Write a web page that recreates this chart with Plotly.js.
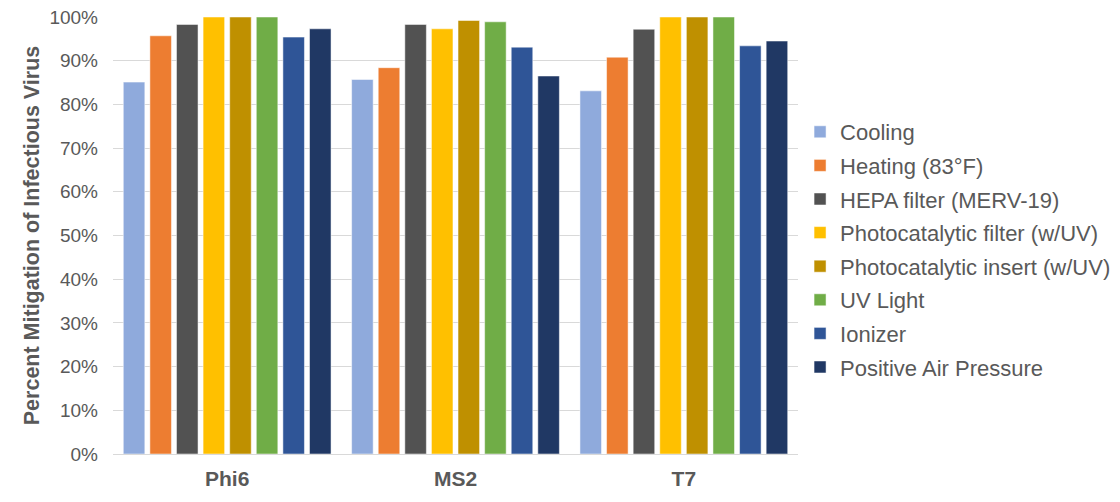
<!DOCTYPE html>
<html>
<head>
<meta charset="utf-8">
<script src="https://cdn.plot.ly/plotly-3.0.1.min.js"></script>
<style>html,body{margin:0;padding:0;background:#fff;}#chart{width:1120px;height:502px;}</style>
</head>
<body>
<div id="chart"></div>
<script>
const categories = ["Phi6", "MS2", "T7"];
const seriesNames = ["Cooling", "Heating (83°F)", "HEPA filter (MERV-19)", "Photocatalytic filter (w/UV)", "Photocatalytic insert (w/UV)", "UV Light", "Ionizer", "Positive Air Pressure"];
const cooling = [0.851, 0.857, 0.831];
const heating = [0.957, 0.884, 0.908];
const hepa = [0.983, 0.983, 0.972];
const photoFilter = [1.0, 0.973, 1.0];
const photoInsert = [1.0, 0.992, 1.0];
const uvLight = [1.0, 0.989, 1.0];
const ionizer = [0.954, 0.931, 0.934];
const positiveAir = [0.973, 0.865, 0.945];
const seriesValues = [cooling, heating, hepa, photoFilter, photoInsert, uvLight, ionizer, positiveAir];
const colors = ["#8FAADC", "#ED7D31", "#525252", "#FFC000", "#BF9000", "#70AD47", "#2F5597", "#203864"];

const traces = seriesNames.map((name, i) => ({
  type: "bar",
  name: name,
  x: categories,
  y: seriesValues[i],
  legendgroup: "g" + i,
  marker: {color: colors[i], line: {color: "#ffffff", width: 0.5}},
  hovertemplate: "%{x}: %{y:.1%}<extra>" + name + "</extra>"
}));

const layout = {
  width: 1120,
  height: 502,
  margin: {l: 113, r: 322, t: 17, b: 48, autoexpand: false},
  paper_bgcolor: "#ffffff",
  plot_bgcolor: "#ffffff",
  font: {family: "Liberation Sans, Arial, sans-serif", color: "#595959"},
  barmode: "group",
  bargap: 0.068,
  bargroupgap: 0.19,
  showlegend: true,
  legend: {
    x: 1.003, xanchor: "left",
    y: 0.468, yanchor: "middle",
    font: {size: 22, color: "#595959"},
    tracegroupgap: 2,
    itemwidth: 30,
    bgcolor: "rgba(0,0,0,0)"
  },
  xaxis: {
    type: "category",
    showline: true,
    linecolor: "#d9d9d9",
    linewidth: 1,
    ticks: "",
    tickfont: {size: 21, color: "#595959", family: "Liberation Sans, Arial, sans-serif", weight: "bold"},
    ticklabelstandoff: 6
  },
  yaxis: {
    range: [0, 1],
    tickvals: [0, 0.1, 0.2, 0.3, 0.4, 0.5, 0.6, 0.7, 0.8, 0.9, 1.0],
    ticktext: ["0%", "10%", "20%", "30%", "40%", "50%", "60%", "70%", "80%", "90%", "100%"],
    showgrid: true,
    gridcolor: "#d9d9d9",
    gridwidth: 1,
    zeroline: false,
    showline: false,
    ticks: "",
    tickfont: {size: 19, color: "#595959"},
    ticklabelstandoff: 14,
    title: {text: "Percent Mitigation of Infectious Virus", font: {size: 21.5, color: "#595959", weight: "bold"}, standoff: 3}
  }
};

Plotly.newPlot("chart", traces, layout, {displayModeBar: false, staticPlot: true});
</script>
</body>
</html>
